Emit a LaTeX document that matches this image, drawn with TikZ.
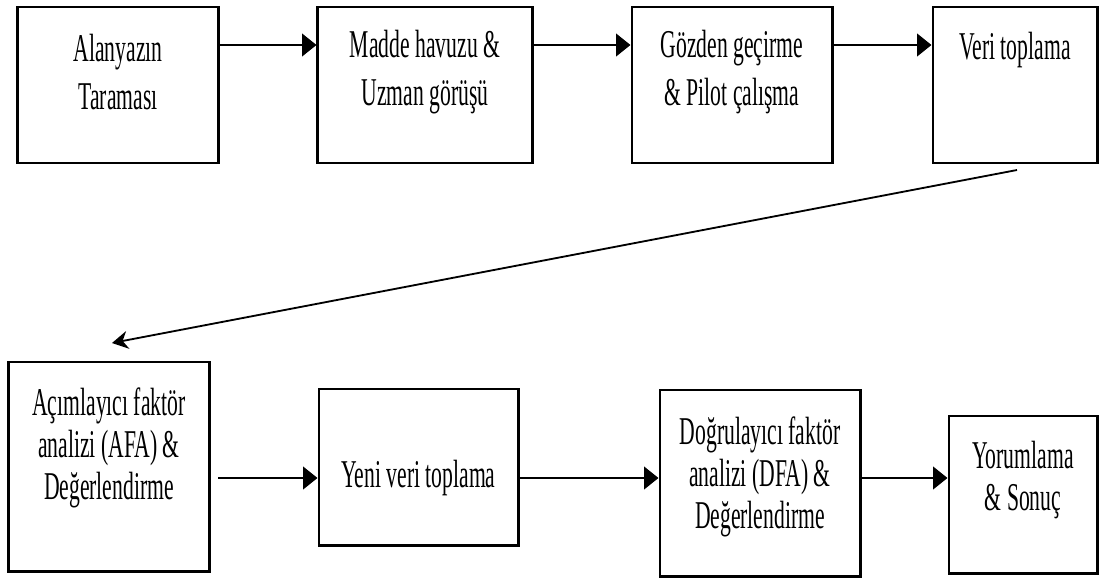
\documentclass[tikz,border=0pt]{standalone}
\usepackage{fontspec}
\setmainfont[FakeStretch=0.55]{Liberation Serif}
\usetikzlibrary{arrows.meta}
\begin{document}
\begin{tikzpicture}[x=0.025cm,y=-0.025cm,
  box/.style={draw, line width=2.1pt, inner sep=0pt, fill=white},
  txt/.style={align=center, font=\fontsize{28}{34}\selectfont, inner sep=0pt},
  txtb/.style={align=center, font=\fontsize{28}{30}\selectfont, inner sep=0pt},
  arr/.style={line width=1.9pt, -{Triangle[length=0.36cm,width=0.56cm]}},
  darr/.style={line width=1.3pt, -{Stealth[length=0.4cm,width=0.45cm]}}]
\useasboundingbox[fill=white] (0,0) rectangle (1100,579);
% top row
\node[box, minimum width=5cm,    minimum height=3.9cm] (b1) at (118,85) {};
\node[box, minimum width=5.35cm, minimum height=3.9cm] (b2) at (425,85) {};
\node[box, minimum width=5cm,    minimum height=3.9cm] (b3) at (732,85) {};
\node[box, minimum width=4.1cm,  minimum height=3.9cm] (b4) at (1015,85) {};
% bottom row
\node[box, minimum width=5cm,    minimum height=5.225cm] (b5) at (109,466.5) {};
\node[box, minimum width=4.975cm, minimum height=3.9cm] (b6) at (418.5,467) {};
\node[box, minimum width=5cm,    minimum height=4.65cm] (b7) at (760,483) {};
\node[box, minimum width=3.7cm,  minimum height=3.925cm] (b8) at (1023,494.5) {};
% texts
\node[txt] (t1) at (118,72) {Alanyazın\\Taraması};
\node[txt] (t2) at (425,72) {Madde havuzu \&\\Uzman görüşü};
\node[txt] (t3) at (732,72) {Gözden geçirme\\\& Pilot çalışma};
\node[txt] (t4) at (1015,50) {Veri toplama};
\node[txtb] (t5) at (109,448) {Açımlayıcı faktör\\analizi (AFA) \&\\Değerlendirme};
\node[txt] (t6) at (418.5,478) {Yeni veri toplama};
\node[txtb] (t7) at (760,477) {Doğrulayıcı faktör\\analizi (DFA) \&\\Değerlendirme};
\node[txtb] (t8) at (1023,480) {Yorumlama\\\& Sonuç};
% connectors
\coordinate (ya) at (0,45);
\coordinate (yb) at (0,478);
\coordinate (s5) at (218,478);
\coordinate (ds) at (1017,170);
\coordinate (de) at (112,343);
\draw[arr] (b1.east |- ya) -- (b2.west |- ya);
\draw[arr] (b2.east |- ya) -- (b3.west |- ya);
\draw[arr] (b3.east |- ya) -- (b4.west |- ya);
\draw[darr] (ds) -- (de);
\draw[arr] (s5) -- (b6.west |- yb);
\draw[arr] (b6.east |- yb) -- (b7.west |- yb);
\draw[arr] (b7.east |- yb) -- (b8.west |- yb);
\end{tikzpicture}
\end{document}
